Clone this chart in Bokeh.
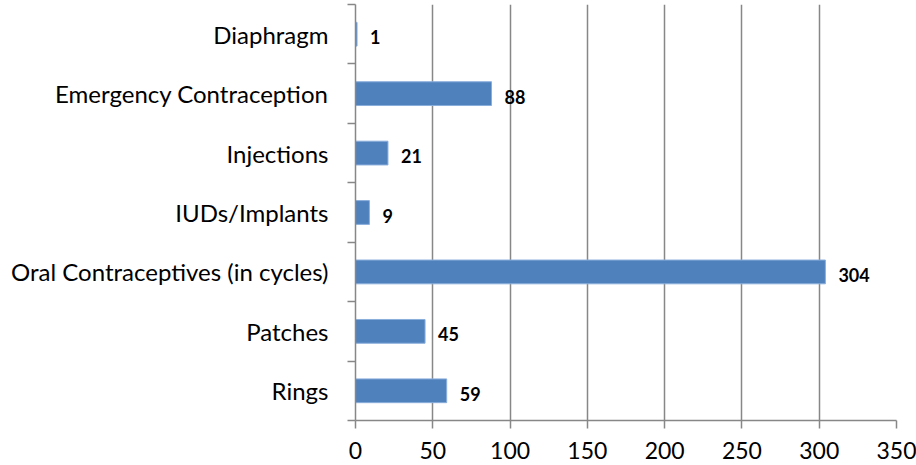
from bokeh.plotting import figure
from bokeh.models import ColumnDataSource, FixedTicker, Range1d
from bokeh.core.properties import value
from bokeh.embed import file_html
from bokeh.resources import INLINE

categories = ["Diaphragm", "Emergency Contraception", "Injections", "IUDs/Implants",
              "Oral Contraceptives (in cycles)", "Patches", "Rings"]
values = [1, 88, 21, 9, 304, 45, 59]
x_ticks = [0, 50, 100, 150, 200, 250, 300, 350]

n = len(categories)
ypos = [n - 1 - i for i in range(n)]  # first category at top
src = ColumnDataSource(dict(y=ypos, v=values, lab=[str(v) for v in values], cat=categories))

FONT = "Lato"
GRAY = "#878787"

p = figure(width=916, height=465, output_backend="svg", toolbar_location=None,
           x_range=Range1d(0, 350), y_range=Range1d(-0.5, n - 0.5),
           min_border_left=355, min_border_right=20, min_border_top=4, min_border_bottom=45,
           frame_width=541, frame_height=416)
p.outline_line_color = None
p.background_fill_color = "white"
p.border_fill_color = "white"

p.hbar(y="y", right="v", left=0, height=0.4, source=src,
       fill_color="#4F81BD", line_color="#8AAEDC", line_width=1)

p.text(x="v", y="y", text="lab", source=src, x_offset=13, y_offset=3,
       text_align="left", text_baseline="middle",
       text_font=value(FONT), text_font_style="bold", text_font_size="18px",
       text_color="black")

# x axis
p.xaxis.ticker = FixedTicker(ticks=x_ticks)
p.xaxis.axis_line_color = GRAY
p.xaxis.axis_line_width = 1.5
p.xaxis.major_tick_line_color = GRAY
p.xaxis.major_tick_line_width = 1.5
p.xaxis.major_tick_out = 8
p.xaxis.major_tick_in = 0
p.xaxis.minor_tick_line_color = None
p.xaxis.major_label_text_font = FONT
p.xaxis.major_label_text_font_size = "23px"
p.xaxis.major_label_text_color = "black"
p.xaxis.major_label_standoff = 13

# y axis: labels at category centres, ticks at boundaries
bounds = [i - 0.5 for i in range(n + 1)]
p.yaxis.ticker = FixedTicker(ticks=ypos, minor_ticks=bounds)
p.yaxis.major_label_overrides = {y: c for y, c in zip(ypos, categories)}
p.yaxis.axis_line_color = GRAY
p.yaxis.axis_line_width = 1.5
p.yaxis.major_tick_line_color = None
p.yaxis.major_tick_out = 0
p.yaxis.major_tick_in = 0
p.yaxis.minor_tick_line_color = GRAY
p.yaxis.minor_tick_line_width = 1.5
p.yaxis.minor_tick_out = 8
p.yaxis.minor_tick_in = 0
p.yaxis.major_label_text_font = FONT
p.yaxis.major_label_text_font_size = "24px"
p.yaxis.major_label_text_color = "black"
p.yaxis.major_label_standoff = 19

p.xgrid.ticker = FixedTicker(ticks=x_ticks[1:])
p.xgrid.grid_line_color = GRAY
p.xgrid.grid_line_width = 1.5
p.ygrid.grid_line_color = None

open("out.html", "w").write(file_html(p, INLINE))
